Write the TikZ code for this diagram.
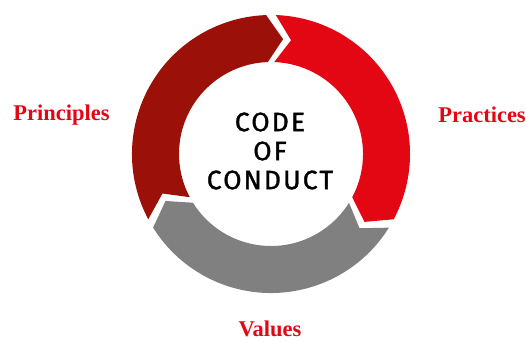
\documentclass[tikz,border=0pt]{standalone}
\usepackage{fontspec}
\setmainfont{Liberation Serif}
\newfontfamily\cocfont[LetterSpace=8,FakeBold=1.2]{Fira Sans}
\usepackage{tikz}
\usetikzlibrary{positioning}
\usepackage{xcolor}
\definecolor{cocred}{RGB}{227,6,19}
\definecolor{cocdarkred}{RGB}{155,16,8}
\definecolor{cocgray}{RGB}{128,128,128}
\tikzstyle{label} = [text=cocred, font=\fontsize{22.5}{26}\selectfont\bfseries, inner sep=0pt]
\tikzstyle{title} = [align=center, font=\fontsize{26.5}{29}\selectfont\cocfont, inner sep=0pt]
% ring piece: colour, tail angle, head angle
\newcommand{\ringseg}[3]{%
  \fill[#1] (#2-2:139pt) arc[start angle=#2-2, end angle=#3+2, radius=139pt]
    -- (#3-6:115.5pt) -- (#3+2:92pt)
    arc[start angle=#3+2, end angle=#2-2, radius=92pt]
    -- (#2-10:115.5pt) -- cycle;}

\begin{document}
\begin{tikzpicture}[x=1pt, y=1pt]
    \useasboundingbox (0,0) rectangle (526,341);

    % Ring
    \begin{scope}[shift={(271,187)}]
        \ringseg{cocred}{90}{-30}
        \ringseg{cocgray}{-30}{-150}
        \ringseg{cocdarkred}{210}{90}
    \end{scope}

    % Nodes
    \node[title] (coc) at (270,190) {CODE\\OF\\CONDUCT};
    \node[label] (principles) at (61.5,226) {Principles};
    \node[label] (practices) at (482,226) {Practices};
    \node[label] (values) at (270,12) {Values};
\end{tikzpicture}
\end{document}
